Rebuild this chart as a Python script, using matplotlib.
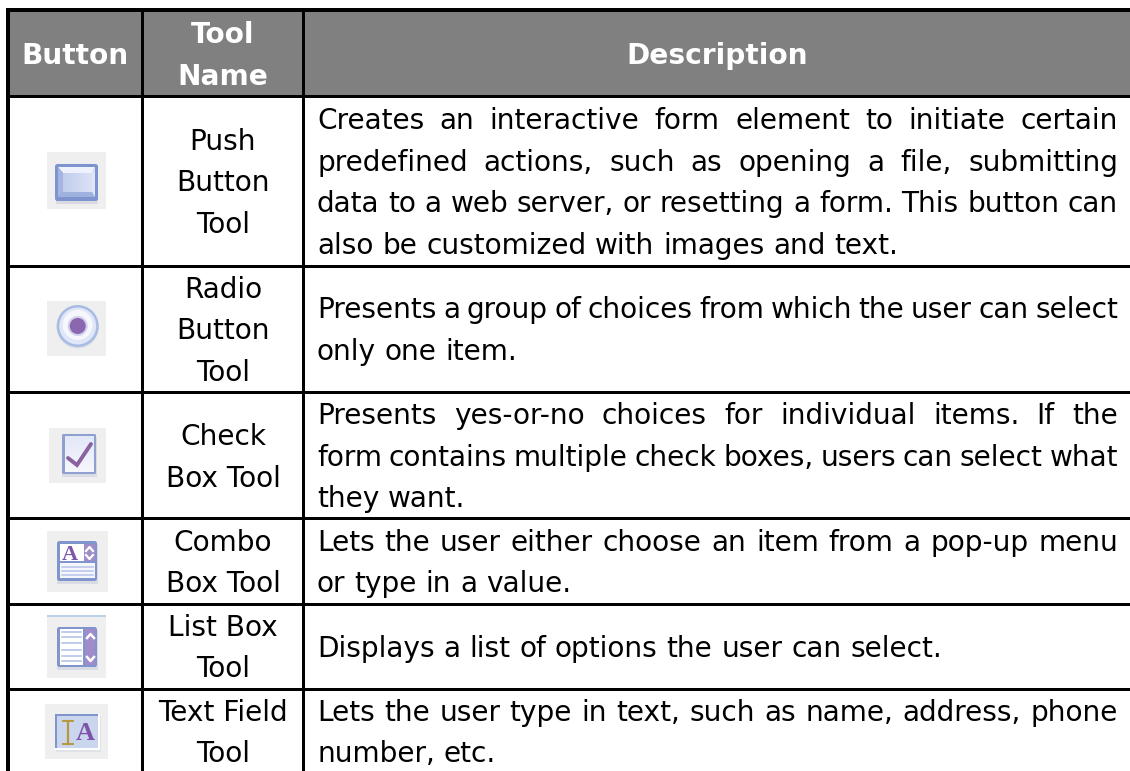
import matplotlib
matplotlib.use("Agg")
import matplotlib.pyplot as plt
import numpy as np
from matplotlib.patches import Rectangle, Circle, FancyBboxPatch, Polygon

W, H = 1130, 771
plt.rcParams['font.family'] = ['DejaVu Sans']

headers = ["Button", "Tool\nName", "Description"]
tool_names = [["Push", "Button", "Tool"], ["Radio", "Button", "Tool"], ["Check", "Box Tool"],
              ["Combo", "Box Tool"], ["List Box", "Tool"], ["Text Field", "Tool"]]
descriptions = [
    ["Creates an interactive form element to initiate certain",
     "predefined actions, such as opening a file, submitting",
     "data to a web server, or resetting a form. This button can",
     "also be customized with images and text."],
    ["Presents a group of choices from which the user can select",
     "only one item."],
    ["Presents yes-or-no choices for individual items. If the",
     "form contains multiple check boxes, users can select what",
     "they want."],
    ["Lets the user either choose an item from a pop-up menu",
     "or type in a value."],
    ["Displays a list of options the user can select."],
    ["Lets the user type in text, such as name, address, phone",
     "number, etc."],
]
name_y = [[150, 191, 233], [298, 339, 381], [445, 487], [551, 592], [636, 677], [721, 762]]
desc_y = [[129, 171, 212, 254], [318, 360], [424, 466, 507], [551, 592], [657], [721, 762]]
row_lines = [96, 266, 392, 518, 604, 689]
col_lines = [142, 303]
FS = 20.2
TL, TR = 317, 1118

fig = plt.figure(figsize=(W / 100, H / 100), dpi=100, facecolor='white')
ax = fig.add_axes([0, 0, 1, 1])
ax.set_xlim(0, W)
ax.set_ylim(H, 0)
ax.axis('off')

ax.add_patch(Rectangle((6, 8), W - 6, 88, fc='#808080', ec='none', zorder=1))
ax.add_patch(Rectangle((6, 8), W - 6, 4, fc='black', ec='none', zorder=5))
ax.add_patch(Rectangle((6, 8), 4, H - 8, fc='black', ec='none', zorder=5))
for x in col_lines:
    ax.add_patch(Rectangle((x - 1.5, 8), 3, H - 8, fc='black', ec='none', zorder=5))
for y in row_lines:
    ax.add_patch(Rectangle((6, y - 1.5), W - 6, 3, fc='black', ec='none', zorder=5))

hkw = dict(color='white', fontweight='bold', fontsize=FS, ha='center', va='baseline', zorder=6)
ax.text(75.5, 64, headers[0], **hkw)
ax.text(223, 43, headers[1].split("\n")[0], **hkw)
ax.text(223, 85, headers[1].split("\n")[1], **hkw)
ax.text(717, 64, headers[2], **hkw)

for lines, ys in zip(tool_names, name_y):
    for s, y in zip(lines, ys):
        ax.text(223, y, s, fontsize=FS, ha='center', va='baseline', color='black', zorder=6)

fig.canvas.draw()
rend = fig.canvas.get_renderer()


def width(s):
    t = ax.text(0, 0, s, fontsize=FS)
    w = t.get_window_extent(rend).width
    t.remove()
    return w


space = width("a a") - width("aa")
for lines, ys in zip(descriptions, desc_y):
    for i, (s, y) in enumerate(zip(lines, ys)):
        words = s.split(" ")
        widths = [width(w) for w in words]
        last = i == len(lines) - 1
        gap = space if last else (TR - TL - sum(widths)) / (len(words) - 1)
        x = TL
        for w, wd in zip(words, widths):
            ax.text(x, y, w, fontsize=FS, ha='left', va='baseline', color='black', zorder=6)
            x += wd + gap


def grad(x0, x1, y0, y1, c0, c1, z=3, horizontal=True):
    c0, c1 = np.array(matplotlib.colors.to_rgb(c0)), np.array(matplotlib.colors.to_rgb(c1))
    t = np.linspace(0, 1, 32)
    g = (t[None, :, None] if horizontal else t[:, None, None])
    ax.imshow(c0 + (c1 - c0) * g, extent=(x0, x1, y1, y0), aspect='auto', zorder=z, interpolation='bilinear')
    ax.set_xlim(0, W)
    ax.set_ylim(H, 0)


BG = '#efefef'
BLUE = '#7f95cc'
PURP = '#8a68b0'
for (x, y, w, h) in [(47, 152, 59, 57), (47, 301, 59, 55), (49, 428, 57, 55), (47, 531, 61, 61), (47, 615, 59, 63), (45, 704, 63, 55)]:
    ax.add_patch(Rectangle((x, y), w, h, fc=BG, ec='none', zorder=2))

# Push button
ax.add_patch(Rectangle((56, 168), 42, 36, fc='#d8dbe3', ec='none', zorder=2.5))
ax.add_patch(FancyBboxPatch((55, 164), 43, 37, boxstyle="round,pad=0,rounding_size=2.5", fc='#7d94cf', ec='none', zorder=3))
ax.add_patch(Polygon([(58, 167), (95, 167), (92, 173), (63, 173)], fc='#eef2fc', ec='none', zorder=3.2))
ax.add_patch(Polygon([(58, 167), (63, 173), (63, 192), (58, 197)], fc='#a3b5e0', ec='none', zorder=3.2))
ax.add_patch(Polygon([(58, 197), (63, 192), (92, 192), (95, 197)], fc='#9fb1de', ec='none', zorder=3.2))
ax.add_patch(Polygon([(95, 167), (92, 173), (92, 192), (95, 197)], fc='#dfe6f7', ec='none', zorder=3.2))
grad(63, 92, 173, 192, '#c0cdec', '#dbe2f5', z=3.3, horizontal=True)

# Radio
ax.add_patch(Circle((77.7, 327.5), 21, fc='#dcdfe8', ec='none', zorder=2.6))
ax.add_patch(Circle((77.7, 326), 21, fc='#a8bbe2', ec='none', zorder=3))
ax.add_patch(Circle((77.7, 326), 18.5, fc='#dfe6f7', ec='none', zorder=3.1))
ax.add_patch(Circle((77.7, 325), 15, fc='#f6f7fd', ec='none', zorder=3.15))
ax.add_patch(Circle((77.7, 326), 10, fc='#d3d1ea', ec='none', zorder=3.2))
ax.add_patch(Circle((77.7, 326), 8, fc=PURP, ec='none', zorder=3.3))

# Check box
ax.add_patch(Rectangle((62, 437), 35, 40, fc='#dadce5', ec='none', zorder=2.5))
ax.add_patch(FancyBboxPatch((62, 434), 34, 40, boxstyle="round,pad=0,rounding_size=1.5", fc='#8e9fd0', ec='none', zorder=3))
grad(65, 94, 436, 472, '#e3e8f8', '#f6f7fd', z=3.2, horizontal=False)
ax.plot([68, 77, 91], [458, 465, 444], color='#8a629f', lw=2.8, solid_capstyle='round', solid_joinstyle='miter', zorder=3.4)

# Combo box
ax.add_patch(Rectangle((57, 544), 41, 40, fc='#d8dbe3', ec='none', zorder=2.5))
ax.add_patch(FancyBboxPatch((57, 541), 40, 40, boxstyle="round,pad=0,rounding_size=2.5", fc=BLUE, ec='none', zorder=3))
ax.add_patch(Rectangle((60, 544), 24, 17, fc='white', ec='none', zorder=3.2))
ax.add_patch(Rectangle((84, 544), 11, 17, fc='#9f8cc8', ec='none', zorder=3.2))
ax.text(70, 560, "A", fontsize=16, family='Liberation Serif', fontweight='bold', color='#7d55a8', ha='center', va='baseline', zorder=3.5)
ax.add_patch(Rectangle((60, 563), 35, 15, fc='#f4f6fc', ec='none', zorder=3.2))
for y in [567, 571, 575]:
    ax.plot([62, 93], [y, y], color='#bcc8ea', lw=1.2, zorder=3.4)
ax.plot([86, 89.5, 93], [551, 547, 551], color='white', lw=1.6, zorder=3.5)
ax.plot([86, 89.5, 93], [555, 559, 555], color='white', lw=1.6, zorder=3.5)

# List box
ax.add_patch(Rectangle((47, 615), 59, 2, fc='#bcd0e8', ec='none', zorder=2.6))
ax.add_patch(Rectangle((57, 630), 41, 40, fc='#d8dbe3', ec='none', zorder=2.5))
ax.add_patch(FancyBboxPatch((57, 627), 40, 40, boxstyle="round,pad=0,rounding_size=2.5", fc=BLUE, ec='none', zorder=3))
ax.add_patch(Rectangle((60, 629), 23, 36, fc='white', ec='none', zorder=3.2))
ax.add_patch(Rectangle((85, 629), 10, 36, fc='#9f8cc8', ec='none', zorder=3.2))
for y in [632, 637, 643, 650, 656, 661]:
    ax.plot([62, 81], [y, y], color='#b5c3e8', lw=1.2, zorder=3.4)
ax.plot([87, 90.5, 94], [638, 634, 638], color='white', lw=1.8, zorder=3.5)
ax.plot([87, 90.5, 94], [657, 661, 657], color='white', lw=1.8, zorder=3.5)

# Text field
ax.add_patch(Rectangle((56, 716), 45, 36, fc='#e0e2e8', ec='none', zorder=2.4))
ax.add_patch(Rectangle((55, 714), 45, 36, fc='white', ec='none', zorder=2.5))
ax.add_patch(Rectangle((55, 714), 43, 34, fc='#c9d6ee', ec='none', zorder=3))
ax.add_patch(Rectangle((55, 714), 43, 2.2, fc=BLUE, ec='none', zorder=3.1))
ax.add_patch(Rectangle((55, 714), 2, 34, fc=BLUE, ec='none', zorder=3.1))
ax.plot([68.3, 68.3], [721, 744], color='#b8973c', lw=1.6, zorder=3.4)
ax.plot([63, 73], [721, 721], color='#b8973c', lw=1.4, zorder=3.4)
ax.plot([63, 73], [744, 744], color='#b8973c', lw=1.4, zorder=3.4)
ax.text(85, 740, "A", fontsize=19, family='Liberation Serif', fontweight='bold', color='#7d55a8', ha='center', va='baseline', zorder=3.5)

fig.savefig("out.png", dpi=100, facecolor='white')
